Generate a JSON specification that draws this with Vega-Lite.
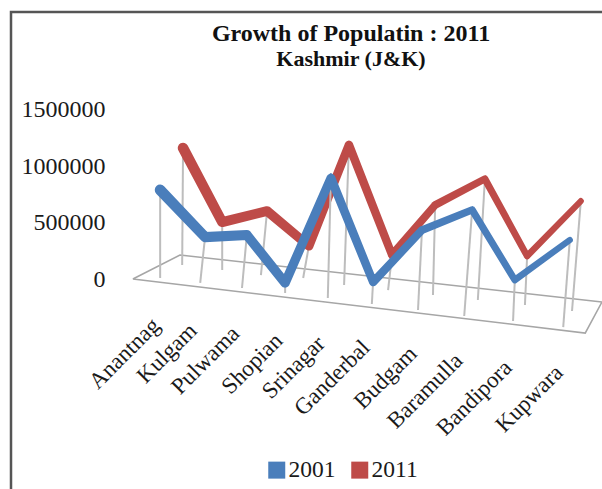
{
  "$schema": "https://vega.github.io/schema/vega-lite/v6.json",
  "autosize": {"type": "none"},
  "padding": {"left": 11, "top": 12, "right": -9, "bottom": -13},
  "width": 600,
  "height": 490,
  "background": "white",
  "view": {"stroke": "#555555", "strokeWidth": 2.5, "fill": "white"},
  "title": {
    "text": "Growth of Populatin : 2011",
    "subtitle": "Kashmir (J&K)",
    "font": "Liberation Serif",
    "fontSize": 24,
    "fontWeight": "bold",
    "color": "#111111",
    "subtitleFont": "Liberation Serif",
    "subtitleFontSize": 22,
    "subtitleFontWeight": "bold",
    "subtitleColor": "#111111",
    "subtitlePadding": 3,
    "anchor": "middle",
    "dx": 40,
    "offset": -58
  },
  "datasets": {
    "readings": [
      {"district": "Anantnag", "year": "2001", "position": 3.39, "reading": 789000, "floorPosition": 3.39, "floorReading": 9000},
      {"district": "Kulgam", "year": "2001", "position": 4.41, "reading": 372000, "floorPosition": 4.30, "floorReading": -35000},
      {"district": "Pulwama", "year": "2001", "position": 5.36, "reading": 390000, "floorPosition": 5.25, "floorReading": -80000},
      {"district": "Shopian", "year": "2001", "position": 6.23, "reading": -35000, "floorPosition": 6.23, "floorReading": -124000},
      {"district": "Srinagar", "year": "2001", "position": 7.27, "reading": 895000, "floorPosition": 7.20, "floorReading": -168000},
      {"district": "Ganderbal", "year": "2001", "position": 8.23, "reading": -27000, "floorPosition": 8.20, "floorReading": -222000},
      {"district": "Budgam", "year": "2001", "position": 9.34, "reading": 434000, "floorPosition": 9.25, "floorReading": -275000},
      {"district": "Baramulla", "year": "2001", "position": 10.48, "reading": 612000, "floorPosition": 10.30, "floorReading": -328000},
      {"district": "Bandipora", "year": "2001", "position": 11.45, "reading": -9000, "floorPosition": 11.41, "floorReading": -372000},
      {"district": "Kupwara", "year": "2001", "position": 12.70, "reading": 346000, "floorPosition": 12.55, "floorReading": -426000},
      {"district": "Anantnag", "year": "2011", "position": 3.91, "reading": 1161000, "floorPosition": 3.89, "floorReading": 124000},
      {"district": "Kulgam", "year": "2011", "position": 4.80, "reading": 505000, "floorPosition": 4.80, "floorReading": 80000},
      {"district": "Pulwama", "year": "2011", "position": 5.82, "reading": 603000, "floorPosition": 5.68, "floorReading": 35000},
      {"district": "Shopian", "year": "2011", "position": 6.77, "reading": 293000, "floorPosition": 6.64, "floorReading": 9000},
      {"district": "Srinagar", "year": "2011", "position": 7.68, "reading": 1188000, "floorPosition": 7.57, "floorReading": -53000},
      {"district": "Ganderbal", "year": "2011", "position": 8.66, "reading": 213000, "floorPosition": 8.57, "floorReading": -98000},
      {"district": "Budgam", "year": "2011", "position": 9.64, "reading": 656000, "floorPosition": 9.59, "floorReading": -142000},
      {"district": "Baramulla", "year": "2011", "position": 10.77, "reading": 887000, "floorPosition": 10.61, "floorReading": -186000},
      {"district": "Bandipora", "year": "2011", "position": 11.73, "reading": 204000, "floorPosition": 11.68, "floorReading": -230000},
      {"district": "Kupwara", "year": "2011", "position": 12.95, "reading": 691000, "floorPosition": 12.75, "floorReading": -284000}
    ],
    "floor": [
      {"corner": 1, "position": 2.77, "reading": 0},
      {"corner": 2, "position": 3.84, "reading": 213000},
      {"corner": 3, "position": 13.43, "reading": -204000},
      {"corner": 4, "position": 13.05, "reading": -479000},
      {"corner": 5, "position": 2.77, "reading": 0}
    ],
    "districts": [
      {"district": "Anantnag", "position": 3.30, "reading": -381000},
      {"district": "Kulgam", "position": 4.14, "reading": -426000},
      {"district": "Pulwama", "position": 5.11, "reading": -452000},
      {"district": "Shopian", "position": 6.09, "reading": -515000},
      {"district": "Srinagar", "position": 7.05, "reading": -541000},
      {"district": "Ganderbal", "position": 8.07, "reading": -577000},
      {"district": "Budgam", "position": 9.14, "reading": -630000},
      {"district": "Baramulla", "position": 10.18, "reading": -692000},
      {"district": "Bandipora", "position": 11.30, "reading": -754000},
      {"district": "Kupwara", "position": 12.46, "reading": -798000}
    ]
  },
  "encoding": {
    "x": {
      "field": "position",
      "type": "quantitative",
      "scale": {"domain": [0, 13.636], "nice": false, "zero": false},
      "axis": null
    },
    "y": {
      "field": "reading",
      "type": "quantitative",
      "scale": {"domain": [-1976895, 2366955], "nice": false, "zero": false},
      "axis": {
        "title": null,
        "values": [0, 500000, 1000000, 1500000],
        "format": "d",
        "offset": -94,
        "domain": false,
        "ticks": false,
        "grid": false,
        "labelPadding": 0,
        "labelFont": "Liberation Serif",
        "labelFontSize": 24,
        "labelColor": "#1a1a1a"
      }
    }
  },
  "layer": [
    {
      "data": {"name": "floor"},
      "mark": {"type": "line", "color": "#a6a6a6", "strokeWidth": 1.6},
      "encoding": {"order": {"field": "corner"}}
    },
    {
      "data": {"name": "readings"},
      "transform": [{"filter": "datum.year === '2011'"}],
      "mark": {"type": "rule", "color": "#bdbdbd", "strokeWidth": 2},
      "encoding": {
        "x2": {"field": "floorPosition"},
        "y2": {"field": "floorReading"}
      }
    },
    {
      "data": {"name": "readings"},
      "transform": [{"filter": "datum.year === '2011'"}],
      "mark": {"type": "trail"},
      "encoding": {
        "color": {
          "field": "year",
          "type": "nominal",
          "scale": {"domain": ["2001", "2011"], "range": ["#4a7ebb", "#be4b48"]},
          "legend": {
            "title": null,
            "orient": "none",
            "legendX": 254,
            "legendY": 446,
            "direction": "horizontal",
            "symbolType": "square",
            "symbolSize": 9,
            "symbolStrokeWidth": 14,
            "labelFont": "Liberation Serif",
            "labelFontSize": 23.5,
            "labelColor": "#1a1a1a",
            "labelOffset": 0,
            "columnPadding": -6
          }
        },
        "size": {
          "field": "position",
          "type": "quantitative",
          "scale": {"domain": [3, 13], "range": [11, 6]},
          "legend": null
        }
      }
    },
    {
      "data": {"name": "readings"},
      "transform": [{"filter": "datum.year === '2001'"}],
      "mark": {"type": "rule", "color": "#bdbdbd", "strokeWidth": 2},
      "encoding": {
        "x2": {"field": "floorPosition"},
        "y2": {"field": "floorReading"}
      }
    },
    {
      "data": {"name": "readings"},
      "transform": [{"filter": "datum.year === '2001'"}],
      "mark": {"type": "trail"},
      "encoding": {
        "color": {"field": "year", "type": "nominal"},
        "size": {
          "field": "position",
          "type": "quantitative",
          "scale": {"domain": [3, 13], "range": [11, 6]},
          "legend": null
        }
      }
    },
    {
      "data": {"name": "districts"},
      "mark": {
        "type": "text",
        "angle": 315,
        "align": "right",
        "baseline": "middle",
        "font": "Liberation Serif",
        "fontSize": 23,
        "color": "#1a1a1a"
      },
      "encoding": {"text": {"field": "district"}}
    }
  ],
  "resolve": {"scale": {"size": "shared"}}
}
